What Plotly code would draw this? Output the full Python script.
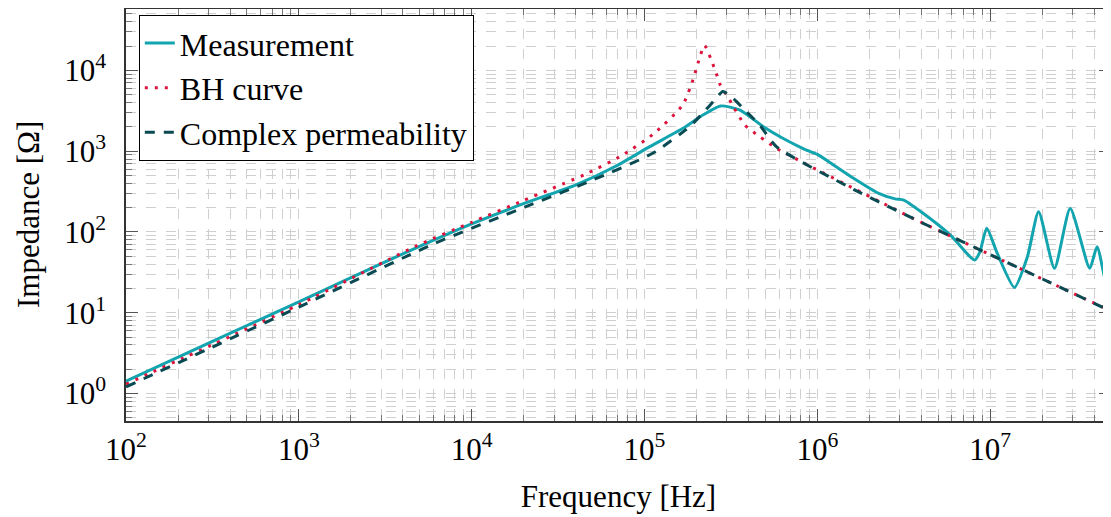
import numpy as np
import plotly.graph_objects as go

# log10(frequency) / log10(|Z|) pairs
meas_logf = [2.0, 2.5, 3.0, 3.5, 3.65, 4.0, 4.3, 4.6, 4.83, 5.03, 5.22, 5.34, 5.44, 5.55, 5.69,
             5.80, 5.93, 6.0, 6.1, 6.21, 6.355, 6.45, 6.5, 6.6, 6.77, 6.88, 6.91, 6.94, 6.98,
             7.04, 7.14, 7.215, 7.28, 7.372, 7.463, 7.576, 7.618, 7.67, 7.727]
meas_logz = [0.152, 0.645, 1.135, 1.63, 1.776, 2.1, 2.35, 2.58, 2.81, 3.056, 3.28, 3.45, 3.56,
             3.51, 3.30, 3.16, 3.02, 2.96, 2.82, 2.664, 2.478, 2.41, 2.395, 2.25, 1.96, 1.70,
             1.652, 1.75, 2.045, 1.74, 1.313, 1.69, 2.25, 1.55, 2.29, 1.55, 1.817, 1.36, 0.99]

bh_logf = [2.0, 3.0, 3.67, 4.0, 4.3, 4.669, 4.872, 5.056, 5.22, 5.28, 5.318, 5.347, 5.386,
           5.415, 5.434, 5.492, 5.58, 5.667, 5.763, 6.209, 6.6, 7.08, 7.4, 7.727]
bh_logz = [0.116, 1.10, 1.817, 2.12, 2.39, 2.726, 2.95, 3.22, 3.57, 3.88, 4.15, 4.31, 4.13,
           3.965, 3.84, 3.634, 3.325, 3.18, 3.036, 2.54, 2.12, 1.64, 1.32, 0.995]

cp_logf = [2.0, 3.0, 3.787, 4.31, 4.70, 5.047, 5.259, 5.337, 5.415, 5.453, 5.512, 5.589,
           5.666, 5.763, 6.209, 6.6, 7.08, 7.4, 7.727]
cp_logz = [0.082, 1.07, 1.859, 2.31, 2.643, 2.974, 3.30, 3.47, 3.655, 3.74, 3.655, 3.49,
           3.325, 3.056, 2.528, 2.12, 1.64, 1.32, 0.99]

x_decades = [2, 3, 4, 5, 6, 7]
y_decades = [0, 1, 2, 3, 4]

series = [
    ("Measurement", meas_logf, meas_logz, "#12a4af", "solid"),
    ("BH curve", bh_logf, bh_logz, "#dc143c", "3px,7px"),
    ("Complex permeability", cp_logf, cp_logz, "#0a4a52", "10px,9px"),
]

FONT = "Liberation Serif, Times New Roman, serif"

fig = go.Figure()
for name, lf, lz, col, dash in series:
    fig.add_trace(go.Scatter(
        x=10 ** np.array(lf), y=10 ** np.array(lz), name=name, mode="lines",
        line=dict(color=col, width=3, dash=dash, shape="spline", smoothing=0.6),
    ))

grid = dict(gridcolor="#cfcfcf", griddash="10px,10px", gridwidth=1)
axis_common = dict(
    type="log", showline=True, linecolor="#333", linewidth=1.5, mirror="allticks",
    ticks="inside", ticklen=12, tickcolor="#555", tickwidth=1, tickmode="array",
    showgrid=True, zeroline=False, automargin=False,
    tickfont=dict(family=FONT, size=31, color="black"),
    minor=dict(ticks="inside", ticklen=6, tickcolor="#777", dtick="D1", showgrid=True, **grid),
    **grid,
)

fig.update_xaxes(axis_common, range=[2, np.log10(5e7)], ticklabelstandoff=0,
                 tickvals=[10 ** d for d in x_decades],
                 ticktext=[f"10<sup>{d}</sup>" for d in x_decades],
                 title=dict(text="Frequency [Hz]", font=dict(family=FONT, size=31), standoff=19))
fig.update_yaxes(axis_common, range=[-0.34, 4.76], ticklabelstandoff=12,
                 tickvals=[10 ** d for d in y_decades],
                 ticktext=[f"10<sup>{d}</sup>" for d in y_decades])

# y title as an annotation so it can sit closer to the page edge
fig.add_annotation(text="Impedance [Ω]", xref="paper", yref="paper", x=0, y=0.5,
                   xanchor="center", yanchor="middle", xshift=-98, textangle=-90,
                   showarrow=False, font=dict(family=FONT, size=31, color="black"))

# page body adds an 8px margin, so the figure is sized to fit inside the window
fig.update_layout(
    width=1103, height=509, margin=dict(l=118, r=0, t=1, b=96),
    plot_bgcolor="white", paper_bgcolor="white",
    font=dict(family=FONT, color="black"),
    legend=dict(x=0.013, y=0.986, xanchor="left", yanchor="top",
                bordercolor="black", borderwidth=1, bgcolor="white",
                font=dict(family=FONT, size=32), tracegroupgap=0),
)

fig.write_html("out.html")
